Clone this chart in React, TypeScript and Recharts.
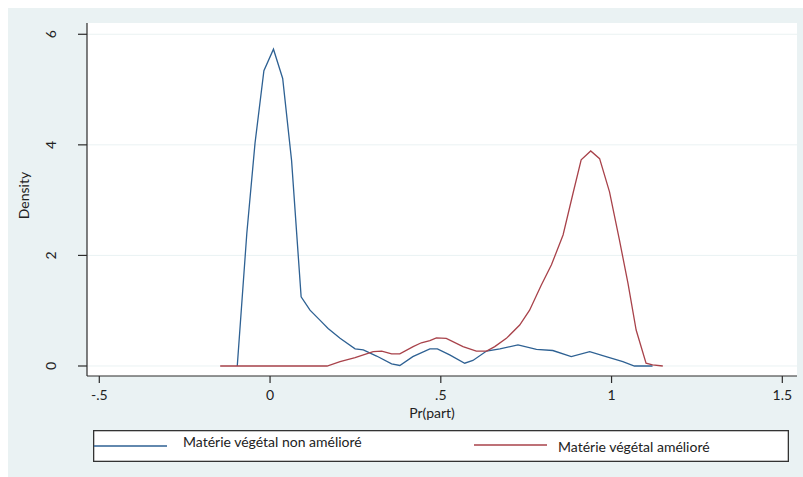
import React from 'react';
import { LineChart, Line, XAxis, YAxis, CartesianGrid, Legend, Label } from 'recharts';

// kernel density: Matérie végétal non amélioré
const nonAmelioreX = [
  -0.096, -0.068, -0.044, -0.018, 0.01, 0.037, 0.063, 0.091, 0.117, 0.146, 0.17, 0.205,
  0.249, 0.273, 0.312, 0.356, 0.38, 0.418, 0.468, 0.49, 0.526, 0.57, 0.594, 0.634, 0.673,
  0.726, 0.78, 0.828, 0.882, 0.936, 0.984, 1.033, 1.067, 1.12,
];
const nonAmelioreY = [
  0, 2.4, 4.03, 5.34, 5.73, 5.2, 3.72, 1.25, 1.01, 0.83, 0.68, 0.5,
  0.31, 0.29, 0.18, 0.04, 0.01, 0.17, 0.31, 0.31, 0.2, 0.05, 0.1, 0.27, 0.31,
  0.38, 0.3, 0.28, 0.17, 0.26, 0.17, 0.08, 0, 0,
];

// kernel density: Matérie végétal amélioré
const amelioreX = [
  -0.146, 0.167, 0.205, 0.249, 0.302, 0.327, 0.356, 0.38, 0.419, 0.443, 0.468, 0.487,
  0.516, 0.565, 0.604, 0.634, 0.658, 0.692, 0.731, 0.76, 0.794, 0.824, 0.858, 0.887,
  0.911, 0.939, 0.965, 0.994, 1.023, 1.048, 1.072, 1.101, 1.12, 1.15,
];
const amelioreY = [
  0, 0, 0.08, 0.15, 0.26, 0.27, 0.22, 0.22, 0.35, 0.42, 0.46, 0.51,
  0.5, 0.35, 0.27, 0.27, 0.35, 0.5, 0.74, 1.01, 1.46, 1.83, 2.37, 3.12,
  3.73, 3.89, 3.75, 3.15, 2.28, 1.5, 0.65, 0.05, 0.02, 0,
];

const xTicks = [-0.5, 0, 0.5, 1, 1.5];
const yTicks = [0, 2, 4, 6];

const seriesNames = ['Matérie végétal non amélioré', 'Matérie végétal amélioré'];
const seriesColors = ['#2e6193', '#a8424a'];

const toPoints = (xs: number[], ys: number[]) => xs.map((x, i) => ({ x, y: ys[i] }));
const blueData = toPoints(nonAmelioreX, nonAmelioreY);
const redData = toPoints(amelioreX, amelioreY);

const FONT = 'Lato, "Open Sans", sans-serif';
const AXIS = '#2b2b2b';

// Stata style: -.5 / .5
const fmtX = (v: number) => String(v).replace(/^(-?)0\./, '$1.');

const YTick = (props: any) => {
  const { x, y, payload } = props;
  return (
    <text
      transform={`translate(${x},${y}) rotate(-90)`}
      textAnchor="middle"
      dominantBaseline="central"
      fontSize={14}
      fontFamily={FONT}
      fill="#222"
    >
      {payload.value}
    </text>
  );
};

// Stata-like legend box, series in declared order
const LegendBox = () => {
  const lineX = [[1, 74], [381, 454]];
  const lineY = [16, 15];
  const textPos = [{ x: 90, y: 11 }, { x: 465, y: 16 }];
  return (
    <svg
      width={696}
      height={32}
      style={{ display: 'block' }}
      fontFamily={FONT}
      fontSize={14}
    >
      <rect x={0.65} y={0.65} width={694.7} height={30.7} fill="#fff" stroke="#333" strokeWidth={1.3} />
      {seriesNames.map((name, i) => (
        <g key={name}>
          <line
            x1={lineX[i][0]}
            x2={lineX[i][1]}
            y1={lineY[i]}
            y2={lineY[i]}
            stroke={seriesColors[i]}
            strokeWidth={1.5}
          />
          <text x={textPos[i].x} y={textPos[i].y} dominantBaseline="central" fill="#222">
            {name}
          </text>
        </g>
      ))}
    </svg>
  );
};

export default function App() {
  return (
    <div
      style={{
        position: 'absolute',
        left: 8,
        top: 8,
        width: 795,
        height: 469,
        background: '#eaf2f3',
        overflow: 'hidden',
      }}
    >
      <LineChart width={795} height={469} margin={{ top: 15, right: 6, left: 0, bottom: 56 }}>
        <CartesianGrid vertical={false} stroke="#eaf2f3" fill="#ffffff" horizontalValues={yTicks} />
        <XAxis
          dataKey="x"
          type="number"
          domain={[-0.536, 1.543]}
          ticks={xTicks}
          tickFormatter={fmtX}
          allowDataOverflow
          height={45}
          tickSize={7}
          tickMargin={7}
          stroke={AXIS}
          strokeWidth={1.2}
          tick={{ fontSize: 14, fontFamily: FONT, fill: '#222' }}
        >
          <Label
            content={(p: any) => {
              const vb = p.viewBox || {};
              return (
                <text
                  x={vb.x + vb.width / 2 - 10}
                  y={vb.y + 42}
                  textAnchor="middle"
                  fontSize={14}
                  fontFamily={FONT}
                  fill="#222"
                >
                  Pr(part)
                </text>
              );
            }}
          />
        </XAxis>
        <YAxis
          type="number"
          domain={[-0.181, 6.204]}
          ticks={yTicks}
          allowDataOverflow
          width={79}
          tickSize={9}
          tickMargin={28}
          stroke={AXIS}
          strokeWidth={1.2}
          tick={<YTick />}
        >
          <Label
            content={(p: any) => {
              const vb = p.viewBox || {};
              const cx = vb.x + 15;
              const cy = vb.y + vb.height / 2 - 4;
              return (
                <text
                  transform={`translate(${cx},${cy}) rotate(-90)`}
                  textAnchor="middle"
                  dominantBaseline="central"
                  fontSize={14}
                  fontFamily={FONT}
                  fill="#222"
                >
                  Density
                </text>
              );
            }}
          />
        </YAxis>
        <Legend
          layout="horizontal"
          verticalAlign="middle"
          align="center"
          wrapperStyle={{ left: 85, top: 422, width: 696 }}
          content={<LegendBox />}
        />
        <Line
          data={blueData}
          dataKey="y"
          name={seriesNames[0]}
          type="linear"
          stroke={seriesColors[0]}
          strokeWidth={1.3}
          dot={false}
          activeDot={false}
          isAnimationActive={false}
        />
        <Line
          data={redData}
          dataKey="y"
          name={seriesNames[1]}
          type="linear"
          stroke={seriesColors[1]}
          strokeWidth={1.3}
          dot={false}
          activeDot={false}
          isAnimationActive={false}
        />
      </LineChart>
    </div>
  );
}
